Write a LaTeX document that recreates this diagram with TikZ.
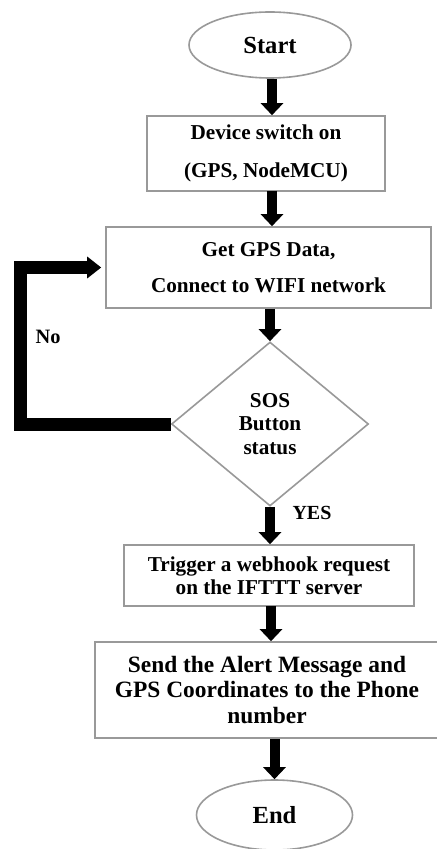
\documentclass[tikz,border=0pt]{standalone}
\usepackage{fontspec}
\setmainfont{Liberation Serif}
\usetikzlibrary{arrows.meta,shapes.geometric}

\begin{document}
\begin{tikzpicture}[x=0.5pt,y=-0.5pt]
\tikzstyle{flow}=[line width=5pt,-{Triangle[width=11pt,length=6pt]}]
\tikzstyle{loopline}=[line width=6.5pt,line join=miter,-{Triangle[width=10.5pt,length=7pt]},shorten >=2pt]
\tikzstyle{box}=[draw=black!40,line width=0.8pt,rectangle,align=center,inner sep=0pt]
\tikzstyle{term}=[draw=black!40,line width=0.8pt,ellipse,inner sep=0pt,font=\fontsize{12.3}{14}\selectfont\bfseries]
\tikzstyle{every node}=[text=black]

\useasboundingbox[fill=white] (0,0) rectangle (436,849);

%start and end
\node[term,minimum width=81pt,minimum height=33pt] (start) at (270,45) {Start};
\node[term,minimum width=78pt,minimum height=35pt] (end) at (274.5,815) {End};

%process boxes
\node[box,minimum width=119pt,minimum height=37.5pt,font=\fontsize{10.6}{19}\selectfont\bfseries]
  (switch) at (266,153.5) {Device switch on\\(GPS, NodeMCU)};
\node[box,minimum width=162.5pt,minimum height=40.5pt,font=\fontsize{10.6}{18}\selectfont\bfseries]
  (gps) at (268.5,267.5) {Get GPS Data,\\Connect to WIFI network};
\node[draw=black!40,line width=0.8pt,diamond,aspect=1.2,inner sep=0pt,minimum width=98.5pt,minimum height=82pt,
  align=center,font=\fontsize{10.6}{11.75}\selectfont\bfseries]
  (sos) at (270,424) {SOS\\Button\\status};
\node[box,minimum width=145pt,minimum height=30.5pt,font=\fontsize{10.6}{11.5}\selectfont\bfseries]
  (hook) at (269,575.5) {Trigger a webhook request\\on the IFTTT server};
\node[box,minimum width=172pt,minimum height=48pt,font=\fontsize{11.7}{12.75}\selectfont\bfseries]
  (send) at (267,690) {Send the Alert Message and\\GPS Coordinates to the Phone\\number};

%arrow feet
\coordinate (a1) at (272,79);
\coordinate (a2) at (272,191);
\coordinate (a5) at (271,606);

%arrows down the chart
\draw[flow] (a1) -- (a1 |- switch.north);
\draw[flow] (a2) -- (a2 |- gps.north);
\draw[flow] (gps.south -| sos.north) -- (sos.north);
\draw[flow] (sos.south) -- (sos.south |- hook.north);
\draw[flow] (a5) -- (a5 |- send.north);
\draw[flow] (send.south -| end.north) -- (end.north);

%no branch back to gps
\draw[loopline] (sos.west) -- ++(-150.5,0) |- (gps.west);
\node[font=\fontsize{10.2}{12}\selectfont\bfseries] (no) at (48,337) {No};
\node[font=\fontsize{10}{12}\selectfont\bfseries] (yes) at (312,513) {YES};

\end{tikzpicture}
\end{document}
